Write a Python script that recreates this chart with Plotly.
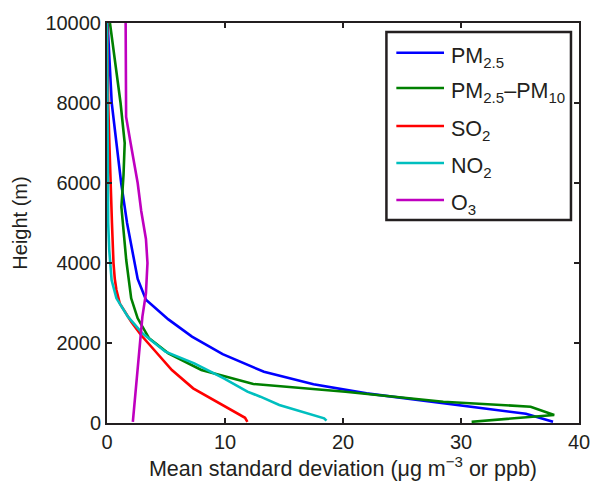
import plotly.graph_objects as go

# Heights (m) and mean standard deviation values per species
pm25_h = [10000, 9000, 8000, 7000, 6000, 5000, 4500, 4000, 3600, 3080, 2590, 2160, 1720, 1280, 970, 740, 470, 230, 30]
pm25_x = [0.05, 0.2, 0.4, 0.8, 1.2, 1.7, 2.0, 2.3, 2.6, 3.3, 5.2, 7.2, 9.8, 13.3, 17.5, 22.0, 29.0, 35.5, 37.8]

pmc_h = [10000, 9000, 8000, 7000, 6200, 5400, 4600, 4075, 3117, 2617, 2117, 1742, 1325, 975, 783, 533, 408, 200, 30]
pmc_x = [0.25, 0.7, 1.15, 1.5, 1.4, 1.22, 1.45, 1.63, 2.05, 2.6, 3.57, 5.2, 8.0, 12.4, 20.2, 28.5, 35.9, 37.9, 30.9]

so2_h = [10000, 9000, 8000, 7000, 6000, 5000, 4000, 3600, 3325, 2992, 2533, 2200, 1825, 1325, 867, 492, 130, 30]
so2_x = [0.02, 0.05, 0.1, 0.2, 0.28, 0.42, 0.55, 0.66, 0.8, 1.08, 2.05, 2.88, 4.0, 5.5, 7.3, 9.5, 11.7, 11.9]

no2_h = [10000, 8000, 6000, 5000, 4325, 3575, 3117, 2658, 2242, 1783, 1492, 1117, 783, 658, 450, 325, 117, 58]
no2_x = [0.0, 0.02, 0.05, 0.1, 0.19, 0.39, 0.8, 1.77, 3.0, 4.95, 7.4, 9.9, 11.9, 13.0, 14.6, 16.0, 18.4, 18.6]

o3_h = [10000, 9000, 8000, 7650, 7000, 6000, 5300, 4600, 4000, 3240, 2660, 1825, 1000, 30]
o3_x = [1.58, 1.58, 1.6, 1.62, 2.0, 2.6, 2.9, 3.3, 3.43, 3.3, 3.0, 2.74, 2.45, 2.19]

x_ticks = [0, 10, 20, 30, 40]
y_ticks = [0, 2000, 4000, 6000, 8000, 10000]

series_names = ["PM<sub>2.5</sub>", "PM<sub>2.5</sub>\u2013PM<sub>10</sub>",
                "SO<sub>2</sub>", "NO<sub>2</sub>", "O<sub>3</sub>"]
series_colors = ["#0000FF", "#008000", "#FF0000", "#00BFBF", "#BF00BF"]
series_x = [pm25_x, pmc_x, so2_x, no2_x, o3_x]
series_h = [pm25_h, pmc_h, so2_h, no2_h, o3_h]

fig = go.Figure()
for name, xs, hs, col in zip(series_names, series_x, series_h, series_colors):
    fig.add_trace(go.Scatter(x=xs, y=hs, mode="lines", name=name,
                             line=dict(color=col, width=2.6), showlegend=False))

font = "Liberation Sans, Arial, sans-serif"
ink = "#231f20"
axis_common = dict(showgrid=False, zeroline=False, showline=True, linecolor=ink,
                   linewidth=2, mirror="ticks", ticks="inside", ticklen=5, tickwidth=2,
                   tickcolor=ink, tickfont=dict(size=20, color=ink, family=font))

fig.update_layout(
    width=600, height=485,
    margin=dict(l=107, r=10, t=23, b=62),
    plot_bgcolor="white", paper_bgcolor="white",
    font=dict(family=font, size=20, color=ink),
    xaxis=dict(range=[0, 40], tickvals=x_ticks, ticktext=[str(v) for v in x_ticks],
               title=dict(text="Mean standard deviation (\u03bcg m<sup>\u22123</sup> or ppb)",
                          font=dict(size=21.5), standoff=5),
               **axis_common),
    yaxis=dict(range=[0, 10000], tickvals=y_ticks, ticktext=[str(v) for v in y_ticks],
               title=dict(text="Height (m)", font=dict(size=20), standoff=12),
               **axis_common),
    showlegend=False,
)

# Manual legend box (MATLAB style) in paper coordinates
box = dict(x0=0.592, x1=0.983, y0=0.5075, y1=0.9775)
fig.add_shape(type="rect", xref="paper", yref="paper", **box,
              line=dict(color=ink, width=2.5), fillcolor="white", layer="above")
row_y = [0.9255, 0.8375, 0.7425, 0.6500, 0.5575]
for name, col, ry in zip(series_names, series_colors, row_y):
    fig.add_shape(type="line", xref="paper", yref="paper", x0=0.613, x1=0.714, y0=ry, y1=ry,
                  line=dict(color=col, width=2.6), layer="above")
    fig.add_annotation(xref="paper", yref="paper", x=0.7246, y=ry - 0.012, text=name,
                       showarrow=False, xanchor="left", yanchor="middle",
                       font=dict(size=21.5, family=font, color=ink))

fig.write_html("out.html")
